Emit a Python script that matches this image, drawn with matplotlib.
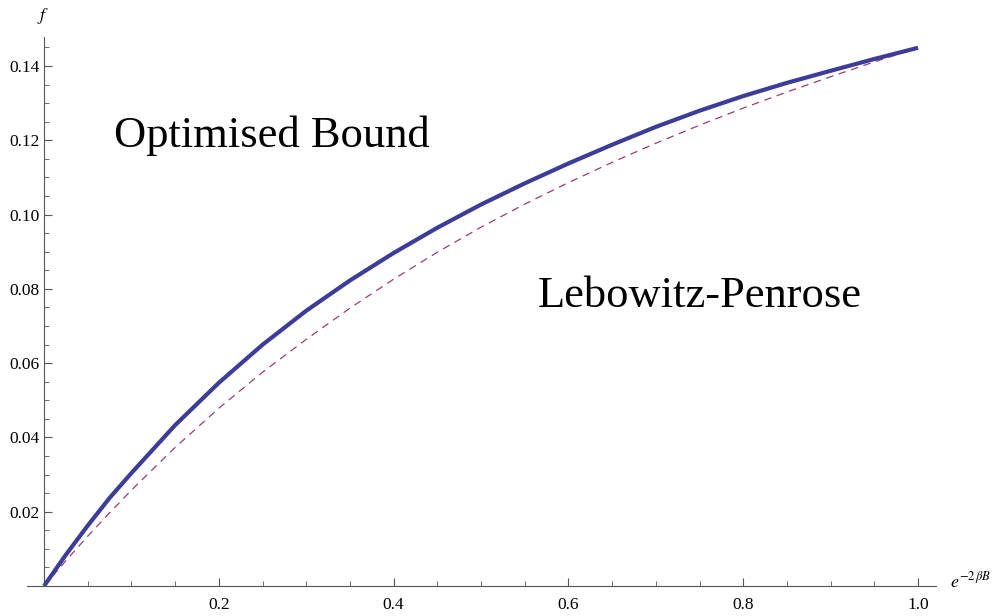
import numpy as np
import matplotlib.pyplot as plt

# values
x_vals = [0.0, 0.025, 0.05, 0.075, 0.1, 0.15, 0.2, 0.25, 0.3, 0.35, 0.4, 0.45, 0.5,
          0.55, 0.6, 0.65, 0.7, 0.75, 0.8, 0.85, 0.9, 0.95, 1.0]
optimised = [0.0, 0.0084, 0.01625, 0.0237, 0.0304, 0.0433, 0.0547, 0.06495, 0.0741, 0.08225,
             0.08965, 0.09645, 0.1027, 0.1084, 0.11375, 0.1188, 0.1236, 0.12795, 0.1319,
             0.13545, 0.1387, 0.14188, 0.1449]
lebowitz = [0.0, 0.0068, 0.0134, 0.0197, 0.0258, 0.0373, 0.04785, 0.05755, 0.0664, 0.0748,
            0.0826, 0.08985, 0.0966, 0.1028, 0.1086, 0.11405, 0.1192, 0.12405, 0.12865,
            0.133, 0.1371, 0.1411, 0.1449]
x_ticks = [0.2, 0.4, 0.6, 0.8, 1.0]
y_ticks = [0.02, 0.04, 0.06, 0.08, 0.10, 0.12, 0.14]

plt.rcParams['font.family'] = ['Liberation Serif', 'DejaVu Serif']
plt.rcParams['mathtext.fontset'] = 'stix'

W, H = 997, 616
fig = plt.figure(figsize=(W / 100, H / 100), dpi=100)
left, right, top, bottom = 27.4, 935.5, 37, 586
ax = fig.add_axes([left / W, 1 - bottom / H, (right - left) / W, (bottom - top) / H])

ax.plot(x_vals, lebowitz, color='#993d71', lw=0.9, dashes=(6, 4.5))
ax.plot(x_vals, optimised, color='#3d3d99', lw=3.0, solid_capstyle='butt',
        solid_joinstyle='round')

ax.set_xlim(-0.019, 1.02)
ax.set_ylim(0, 0.1478)

for s in ['top', 'right']:
    ax.spines[s].set_visible(False)
ax.spines['left'].set_position(('data', 0))
ax.spines['bottom'].set_position(('data', 0))
for s in ['left', 'bottom']:
    ax.spines[s].set_color('#555555')
    ax.spines[s].set_linewidth(0.8)

ax.set_xticks(x_ticks)
ax.set_xticklabels(['%.1f' % v for v in x_ticks])
ax.set_xticks(np.arange(0.05, 1.01, 0.05), minor=True)
ax.set_yticks(y_ticks)
ax.set_yticklabels(['%.2f' % v for v in y_ticks])
ax.set_yticks(np.arange(0.005, 0.1475, 0.005), minor=True)
ax.tick_params(which='major', direction='in', length=6, width=0.8, color='#555555',
               labelsize=12.5, pad=3)
ax.tick_params(which='minor', direction='in', length=3.5, width=0.6, color='#555555')
ax.tick_params(axis='x', pad=8)

ax.text(0.261, 0.1212, 'Optimised Bound', fontsize=32, ha='center', va='center')
ax.text(0.750, 0.0782, 'Lebowitz-Penrose', fontsize=32, ha='center', va='center')

fig.text(43 / W, 1 - 16 / H, r'$f$', fontsize=13, ha='center', va='center')
fig.text(971 / W, 1 - 581 / H, r'$e^{-2\,\beta B}$', fontsize=13, ha='center', va='center')

fig.savefig('out.png', dpi=100)
